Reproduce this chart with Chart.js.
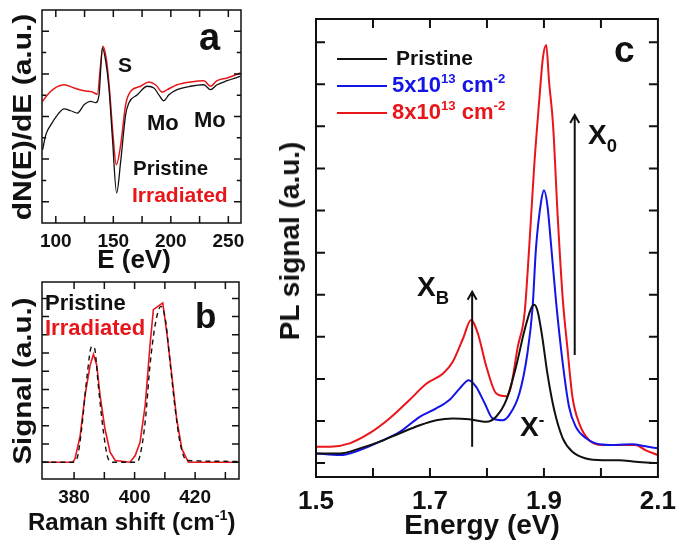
<!DOCTYPE html>
<html>
<head>
<meta charset="utf-8">
<script src="https://cdn.jsdelivr.net/npm/chart.js@4.4.1/dist/chart.umd.min.js"></script>
<style>
  body { margin: 0; background: #fff; width: 685px; height: 554px; overflow: hidden; position: relative;
         font-family: "Liberation Sans", Arial, sans-serif; font-weight: bold; }
  canvas { position: absolute; }
  .t { position: absolute; white-space: nowrap; line-height: 1; }
  .sup { font-size: 60%; position: relative; top: -0.7em; }
  .sub { font-size: 66%; position: relative; top: 0.4em; }
  .leg { position: absolute; height: 2px; width: 50px; left: 337px; }
</style>
</head>
<body>
<canvas id="ca" width="260" height="250" style="left:0;top:0"></canvas>
<canvas id="cb" width="260" height="240" style="left:0;top:270px"></canvas>
<canvas id="cc" width="425" height="520" style="left:260px;top:0"></canvas>
<div class="leg" style="top:58px;background:#111"></div>
<div class="leg" style="top:85px;background:#1414e6"></div>
<div class="leg" style="top:112px;background:#e8161b"></div>

<script>
// ---------------------------
// DATA
// ---------------------------
// panel a : Auger spectra dN(E)/dE
const aPristineE = [88.5, 91.3, 95.7, 101.5, 107.2, 113, 118.8, 124.6, 130.4, 134.7, 137.6, 140.5, 143.4, 146.2, 149.2, 152.9, 156.4, 160.7, 163.6, 170.9, 179.5, 185.3, 189.6, 193.9, 198.3, 205.5, 217.1, 228.7, 234.5, 240.2, 248.9, 260.4];
const aPristine  = [3.43, 4.14, 4.61, 5.08, 5.36, 5.27, 5.16, 5.55, 5.71, 5.65, 6.02, 8.22, 7.59, 6.35, 4.0, 1.41, 2.89, 5.08, 5.65, 6.02, 6.42, 6.34, 6.02, 5.74, 6.02, 6.26, 6.42, 6.49, 6.26, 6.49, 6.68, 6.88];
const aIrrE = [88.5, 92.8, 98.5, 107.2, 115.9, 124.6, 131.8, 136.1, 139, 141, 144, 146.8, 149.7, 152.6, 156.4, 160.7, 165, 173.7, 180.9, 186.7, 192.5, 196.9, 205.5, 217.1, 228.7, 234.5, 240.2, 248.9, 260.4];
const aIrr  = [5.71, 6.02, 6.31, 6.49, 6.34, 6.21, 6.15, 6.05, 7.44, 8.3, 7.67, 6.18, 4.14, 2.73, 3.67, 5.55, 6.18, 6.42, 6.62, 6.49, 6.15, 6.26, 6.49, 6.62, 6.68, 6.42, 6.68, 6.81, 7.04];
const aTickLabels = [100, 150, 200, 250];

// panel b : Raman spectra
const bPristineR = [369.5, 379.2, 380.9, 382.5, 384.2, 385.8, 386.7, 388, 389.7, 391.3, 393, 400.7, 401.8, 403.5, 405.1, 406.8, 408.7, 410.1, 411.7, 413.4, 415, 417.2, 434.5];
const bPristine  = [0, 0, 0.18, 1.84, 4.6, 6.35, 6.3, 4.23, 1.67, 0.18, 0, 0, 0.37, 2.23, 5.34, 7.55, 8.56, 7.92, 5.52, 2.94, 1.1, 0.1, 0.05];
const bIrrR = [369.5, 379.5, 380.3, 382, 383.6, 385.3, 386.4, 387.5, 388.6, 390.2, 391.9, 393.6, 398.5, 400.2, 401.8, 403.5, 405.1, 406.2, 409.3, 410.6, 412.3, 413.9, 415.6, 417.8, 434.5];
const bIrr  = [0, 0, 0.18, 1.45, 3.66, 5.32, 5.93, 5.32, 3.66, 1.84, 0.55, 0.1, 0, 0.37, 1.1, 3.13, 6.44, 8.38, 8.75, 7.18, 4.77, 2.39, 0.73, 0, 0];
const bTickLabels = [380, 400, 420];

// panel c : PL spectra
const cPristineE = [1.5, 1.542, 1.577, 1.612, 1.647, 1.682, 1.711, 1.74, 1.769, 1.799, 1.816, 1.834, 1.851, 1.866, 1.877, 1.883, 1.889, 1.897, 1.906, 1.918, 1.933, 1.95, 1.974, 2.003, 2.032, 2.061, 2.1];
const cPristine  = [0.23, 0.23, 0.35, 0.51, 0.71, 0.9, 1.02, 1.06, 1.04, 0.98, 1.1, 1.5, 2.29, 3.16, 3.66, 3.76, 3.6, 3.0, 2.13, 1.26, 0.59, 0.27, 0.11, 0.07, 0.07, 0.03, 0];
const cLowE = [1.5, 1.542, 1.577, 1.612, 1.647, 1.682, 1.711, 1.734, 1.752, 1.768, 1.781, 1.796, 1.81, 1.828, 1.839, 1.857, 1.871, 1.88, 1.886, 1.895, 1.9, 1.906, 1.912, 1.921, 1.933, 1.944, 1.956, 1.974, 1.997, 2.026, 2.055, 2.078, 2.1];
const cLow  = [0.23, 0.19, 0.31, 0.51, 0.74, 1.1, 1.3, 1.5, 1.77, 1.97, 1.81, 1.42, 1.06, 1.02, 1.14, 1.66, 2.61, 3.69, 5.1, 6.21, 6.48, 6.13, 5.26, 3.87, 2.37, 1.34, 0.86, 0.59, 0.45, 0.43, 0.45, 0.4, 0.35];
const cHighE = [1.5, 1.525, 1.559, 1.594, 1.629, 1.664, 1.694, 1.723, 1.74, 1.758, 1.772, 1.784, 1.799, 1.816, 1.834, 1.842, 1.854, 1.866, 1.874, 1.883, 1.892, 1.898, 1.904, 1.909, 1.916, 1.924, 1.933, 1.941, 1.95, 1.962, 1.979, 2.003, 2.038, 2.061, 2.078, 2.1];
const cHigh  = [0.39, 0.39, 0.47, 0.71, 1.06, 1.5, 1.89, 2.13, 2.41, 2.96, 3.4, 3.08, 2.29, 1.66, 1.59, 1.81, 2.76, 3.56, 5.1, 7.08, 8.66, 9.61, 9.93, 9.06, 8.03, 5.89, 3.9, 2.76, 1.57, 0.94, 0.55, 0.43, 0.43, 0.43, 0.31, 0.19];
const cTickLabels = [1.5, 1.7, 1.9, 2.1];

// arrows in panel c (energy, from, to)
const arrowXB = [1.774, 0.39, 4.07];
const arrowX0 = [1.954, 2.57, 8.27];

const RED = '#e8161b', BLUE = '#1414e6', INK = '#111';
const FONT = '"Liberation Sans", Arial, sans-serif';

// ---------------------------
// FRAME + INWARD TICKS + ARROWS
// ---------------------------
const frameTicks = {
  id: 'frameTicks',
  afterDatasetsDraw(chart, args, o) {
    const { ctx, chartArea: a, scales: { x, y } } = chart;
    ctx.save();
    ctx.strokeStyle = INK;
    ctx.lineWidth = o.lw;
    ctx.beginPath();
    o.xt.forEach(v => {
      const p = x.getPixelForValue(v);
      ctx.moveTo(p, a.bottom); ctx.lineTo(p, a.bottom - o.len);
      ctx.moveTo(p, a.top); ctx.lineTo(p, a.top + o.len);
    });
    o.yt.forEach(v => {
      const p = y.getPixelForValue(v);
      const l = (o.yMajor && !o.yMajor.includes(v)) ? o.len * 0.6 : o.len;
      ctx.moveTo(a.left, p); ctx.lineTo(a.left + l, p);
      ctx.moveTo(a.right, p); ctx.lineTo(a.right - l, p);
    });
    ctx.stroke();
    ctx.strokeRect(a.left, a.top, a.width, a.height);

    (o.arrows || []).forEach(ar => {
      const px = x.getPixelForValue(ar[0]);
      const y0 = y.getPixelForValue(ar[1]);
      const y1 = y.getPixelForValue(ar[2]);
      ctx.lineWidth = 2;
      ctx.beginPath();
      ctx.moveTo(px, y0); ctx.lineTo(px, y1);
      ctx.moveTo(px - 4.5, y1 + 8); ctx.lineTo(px, y1); ctx.lineTo(px + 4.5, y1 + 8);
      ctx.stroke();
    });
    ctx.restore();
  }
};

function pts(xs, ys) {
  return xs.map((v, i) => ({ x: v, y: ys[i] }));
}

function makeChart(id, datasets, xr, yr, labels, fontSize, tickPad, axisH, pad, frame, fmt) {
  return new Chart(document.getElementById(id), {
    type: 'line',
    data: { datasets },
    plugins: [frameTicks],
    options: {
      responsive: false,
      animation: false,
      layout: { padding: pad },
      elements: { point: { radius: 0 } },
      plugins: { legend: { display: false }, tooltip: { enabled: false }, frameTicks: frame },
      scales: {
        x: {
          type: 'linear', min: xr[0], max: xr[1],
          grid: { display: false, drawTicks: false },
          border: { display: false },
          ticks: { color: INK, padding: tickPad, maxRotation: 0, autoSkip: false,
                   font: { family: FONT, size: fontSize, weight: 'bold' },
                   callback: fmt || (v => v) },
          afterBuildTicks: s => { s.ticks = labels.map(v => ({ value: v })); },
          afterFit: s => { s.height = axisH; }
        },
        y: {
          min: yr[0], max: yr[1],
          grid: { display: false, drawTicks: false },
          border: { display: false },
          ticks: { display: false },
          afterFit: s => { s.width = 0; }
        }
      }
    }
  });
}

// panel a
makeChart('ca', [
  { data: pts(aPristineE, aPristine), borderColor: INK, borderWidth: 1.3, cubicInterpolationMode: 'monotone' },
  { data: pts(aIrrE, aIrr), borderColor: RED, borderWidth: 1.5, cubicInterpolationMode: 'monotone' }
], [88, 261], [0, 10], aTickLabels, 19, 7, 27,
  { left: 42, right: 19, top: 10, bottom: 0 },
  { lw: 1.5, len: 7, xt: [100, 125, 150, 175, 200, 225, 250], yt: [1, 2, 3, 4, 5, 6, 7, 8, 9], yMajor: [1, 3, 5, 7, 9] });

// panel b
makeChart('cb', [
  { data: pts(bPristineR, bPristine), borderColor: INK, borderWidth: 1.4, borderDash: [5, 4], cubicInterpolationMode: 'monotone' },
  { data: pts(bIrrR, bIrr), borderColor: RED, borderWidth: 1.6, tension: 0 }
], [369.4, 434.5], [-0.92, 9.9], bTickLabels, 19, 7, 31,
  { left: 42, right: 21, top: 12, bottom: 0 },
  { lw: 1.5, len: 7, xt: [380, 390, 400, 410, 420, 430], yt: [0, 1, 2, 3, 4, 5, 6, 7, 8, 9] });

// panel c
makeChart('cc', [
  { data: pts(cPristineE, cPristine), borderColor: INK, borderWidth: 2, cubicInterpolationMode: 'monotone' },
  { data: pts(cLowE, cLow), borderColor: BLUE, borderWidth: 2, cubicInterpolationMode: 'monotone' },
  { data: pts(cHighE, cHigh), borderColor: RED, borderWidth: 2, cubicInterpolationMode: 'monotone' }
], [1.5, 2.1], [-0.33, 10.55], cTickLabels, 26, 9, 43,
  { left: 56, right: 26, top: 19, bottom: 0 },
  { lw: 2, len: 9, xt: [1.6, 1.7, 1.8, 1.9, 2.0], yt: [0, 1, 2, 3, 4, 5, 6, 7, 8, 9, 10],
    arrows: [arrowXB, arrowX0] },
  v => v.toFixed(1));

// ---------------------------
// TEXT LABELS
// ---------------------------
function put(html, x, base, size, color, align) {
  const d = document.createElement('div');
  d.className = 't';
  d.innerHTML = html;
  d.style.left = x + 'px';
  d.style.top = (base - 0.8465 * size) + 'px';
  d.style.fontSize = size + 'px';
  d.style.color = color || INK;
  if (align === 'c') d.style.transform = 'translateX(-50%)';
  document.body.appendChild(d);
  return d;
}
function vput(html, cx, cy, size, stretch) {
  const d = document.createElement('div');
  d.className = 't';
  d.innerHTML = html;
  d.style.left = cx + 'px';
  d.style.top = cy + 'px';
  d.style.fontSize = size + 'px';
  d.style.color = INK;
  d.style.transform = 'translate(-50%,-50%) rotate(-90deg) scaleX(' + stretch + ')';
  document.body.appendChild(d);
}

// panel a
put('a', 199, 50, 38);
put('S', 118, 72, 21);
put('Mo', 147, 131, 22);
put('Mo', 194, 128, 22);
put('Pristine', 133, 175, 20.5);
put('Irradiated', 132, 202, 21, RED);
put('E (eV)', 134, 268, 26, INK, 'c');
vput('dN(E)/dE (a.u.)', 22, 117, 25, 1.2);

// panel b
put('Pristine', 45, 311, 22);
put('Irradiated', 45, 336, 22, RED);
put('b', 195, 328, 35);
put('Raman shift (cm<span class="sup">-1</span>)', 28, 530, 24);
vput('Signal (a.u.)', 22, 381, 25, 1.18);

// panel c
put('c', 614, 62, 37);
put('Pristine', 396, 65, 21);
put('5x10<span class="sup">13</span> cm<span class="sup">-2</span>', 392, 93, 22, BLUE);
put('8x10<span class="sup">13</span> cm<span class="sup">-2</span>', 392, 120, 22, RED);
put('X<span class="sub">B</span>', 417, 297, 28);
put('X<span class="sub">0</span>', 588, 145, 28);
put('X<span class="sup">-</span>', 520, 437, 28);
put('Energy (eV)', 482, 535, 28, INK, 'c');
vput('PL signal (a.u.)', 290, 241, 28, 1);
</script>
</body>
</html>
